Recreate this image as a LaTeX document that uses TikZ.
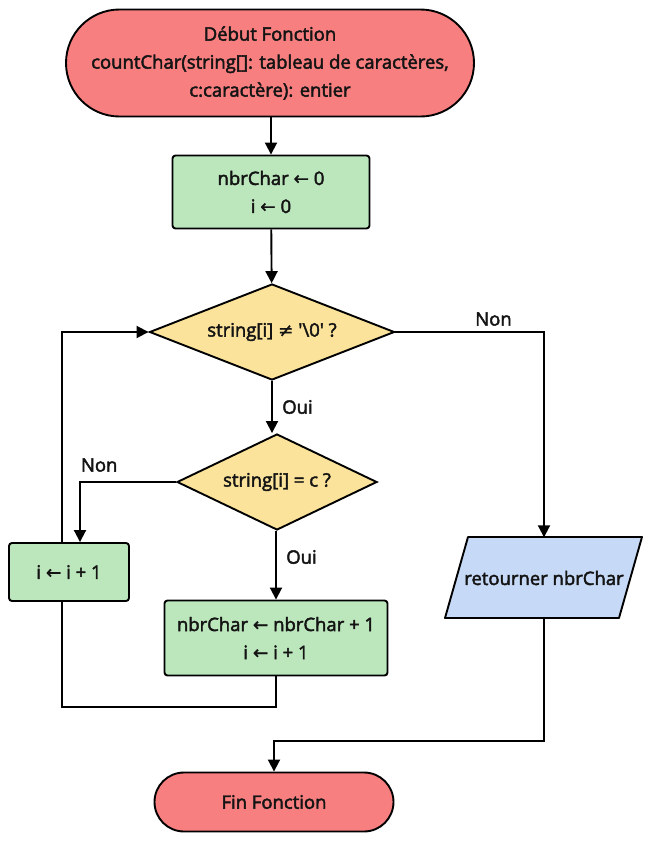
\documentclass[tikz,border=0pt]{standalone}
\usepackage{fontspec}
\setmainfont{Open Sans}[FakeBold=2.4]
\newfontfamily\symf{DejaVu Sans}[FakeBold=0.8]
\usetikzlibrary{shapes.geometric,shapes.misc,arrows.meta}
\newcommand{\la}{{\symf\char"2190}}
\newcommand{\nq}{{\symf\char"2260}}
\definecolor{termred}{HTML}{F77F7F}
\definecolor{procgreen}{HTML}{BCE7BC}
\definecolor{decyellow}{HTML}{FBE39B}
\definecolor{ioblue}{HTML}{C6D9F6}
\begin{document}
\begin{tikzpicture}[x=1pt,y=-1pt,
  every node/.style={font=\fontsize{18.5}{28}\selectfont, text=black!92},
  base/.style={draw=black, line width=1.9pt, align=center},
  term/.style={base, rounded rectangle, fill=termred, inner sep=0pt},
  proc/.style={base, rectangle, rounded corners=3pt, fill=procgreen, inner sep=0pt},
  dec/.style={base, diamond, fill=decyellow, inner sep=0pt},
  arr/.style={line width=1.9pt, -{Triangle[width=12pt,length=12pt]}},
  ln/.style={line width=1.9pt},
  lbl/.style={font=\fontsize{18.5}{22}\selectfont}]
\useasboundingbox (0,0) rectangle (650,841);
\node[term, minimum width=408pt, minimum height=107pt] (start) at (270,63)
  {Début Fonction\\countChar(string[]: tableau de caractères,\\c:caractère): entier};
\node[proc, minimum width=197pt, minimum height=73pt] (init) at (271,192)
  {nbrChar \la{} 0\\i \la{} 0};
\node[dec, shape aspect=2.55, minimum width=245pt, minimum height=96pt] (d1) at (272,332)
  {string[i] \nq{} \textquotesingle\textbackslash 0\textquotesingle{} ?};
\node[dec, shape aspect=2.08, minimum width=200pt, minimum height=96pt] (d2) at (277,482)
  {string[i] = c ?};
\node[proc, minimum width=120pt, minimum height=58pt] (inc) at (69,572)
  {i \la{} i + 1};
\node[proc, minimum width=223pt, minimum height=75pt] (nbr) at (276,638)
  {nbrChar \la{} nbrChar + 1\\i \la{} i + 1};
% parallelogram
\coordinate (p1) at (445,618);
\coordinate (p2) at (468,537);
\coordinate (p3) at (642,537);
\coordinate (p4) at (619,618);
\draw[base, fill=ioblue, line join=round] (p1) -- (p2) -- (p3) -- (p4) -- cycle;
\node[inner sep=0pt, minimum width=150pt, minimum height=81pt] (ret) at (544,578) {retourner nbrChar};
\node[term, minimum width=239pt, minimum height=59pt] (fin) at (274,802)
  {Fin Fonction};
\coordinate (lb) at (62,707);
\coordinate (m2) at (544,741);

\draw[arr] (start.south -| init.north) -- (init.north);
\draw[arr] (init) -- (d1);
\draw[arr] (d1.south) -- node[lbl, right, xshift=6pt]{Oui} (d1.south |- d2.north);
\draw[arr] (d2.south -| nbr.north) -- node[lbl, right, xshift=6pt, pos=0.38]{Oui} (nbr.north);
\draw[arr] (d1.east) -| node[lbl, above, pos=0.33, yshift=2pt]{Non} (ret.north);
\draw[arr] (d2.west) -| node[lbl, above, pos=0.4, yshift=6pt]{Non} ([xshift=11pt]inc.north);
\draw[ln] (nbr.south) |- (lb) -- (lb |- inc.south);
\draw[arr] (lb |- inc.north) |- (d1.west);
\draw[arr] (ret.south) |- (m2) -| (fin.north);
\end{tikzpicture}
\end{document}
